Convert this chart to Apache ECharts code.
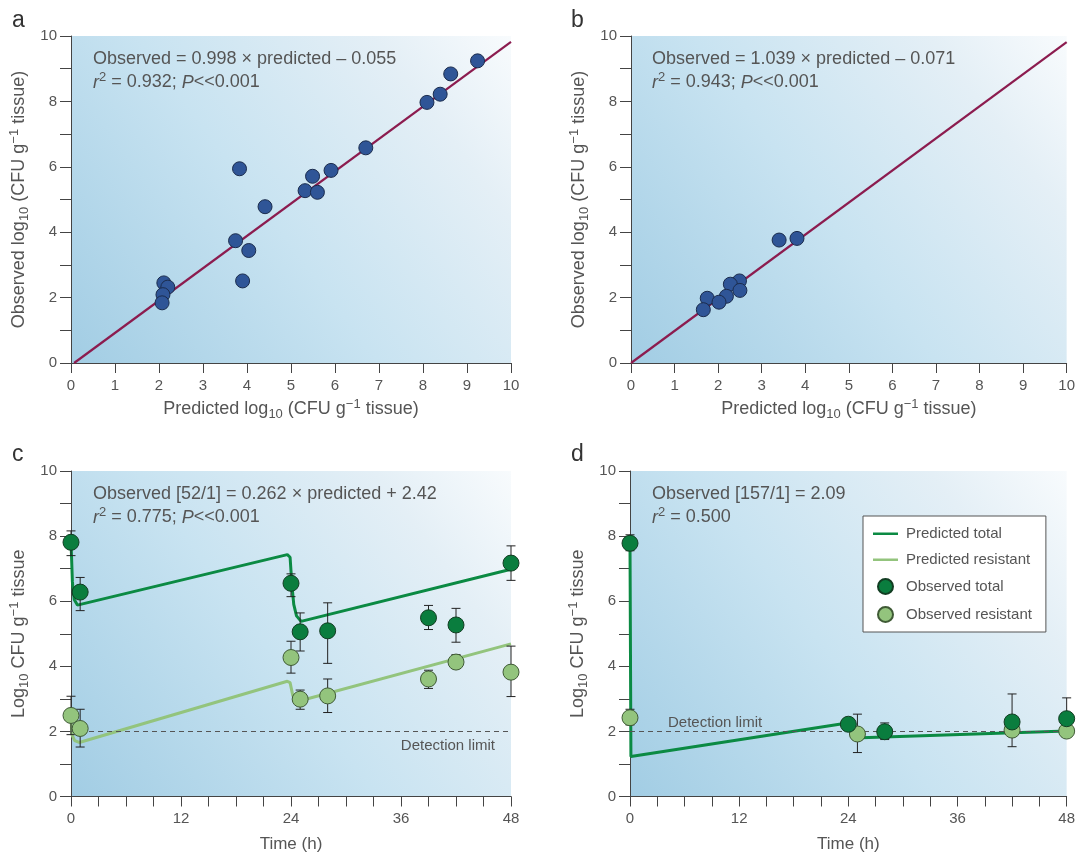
<!DOCTYPE html>
<html><head><meta charset="utf-8">
<script src="https://cdn.jsdelivr.net/npm/echarts@6/dist/echarts.min.js"></script>
<style>html,body{margin:0;padding:0;background:#fff}#c{width:1078px;height:854px}</style>
</head><body><div id="c"></div><script>
// ---------- DATA ----------
// Panel a
const aPred = [9.24, 8.63, 8.39, 8.09, 6.70, 5.91, 5.49, 5.32, 5.60, 3.83, 4.41, 3.74, 4.04, 3.90, 2.11, 2.20, 2.09, 2.07];
const aObs  = [9.24, 8.84, 8.22, 7.97, 6.58, 5.89, 5.71, 5.27, 5.22, 5.94, 4.78, 3.74, 3.44, 2.51, 2.45, 2.32, 2.09, 1.84];
const aFitX = [0.07, 10];
const aFitY = [0, 9.82];
// Panel b
const bPred = [3.40, 3.81, 2.49, 2.28, 2.50, 1.75, 2.19, 2.02, 1.66];
const bObs  = [3.76, 3.81, 2.51, 2.41, 2.22, 1.98, 2.04, 1.86, 1.63];
const bFitX = [0, 10];
const bFitY = [0, 9.81];
// Panel c
const cTime     = [0, 1, 24, 25, 28, 39, 42, 48];
const cTotal    = [7.81, 6.28, 6.55, 5.06, 5.09, 5.49, 5.27, 7.17];
const cTotalLo  = [7.40, 5.71, 6.14, 4.47, 4.09, 5.13, 4.74, 6.64];
const cTotalHi  = [8.16, 6.73, 6.84, 5.64, 5.95, 5.87, 5.78, 7.70];
const cRes      = [2.49, 2.09, 4.27, 2.99, 3.09, 3.61, 4.13, 3.82];
const cResLo    = [1.90, 1.52, 3.79, 2.68, 2.58, 3.32, 3.93, 3.07];
const cResHi    = [3.08, 2.68, 4.77, 3.27, 3.61, 3.88, 4.36, 4.62];
const cPredT    = [0, 0.15, 0.35, 0.7, 23.6, 23.9, 24.1, 24.3, 24.6, 25.1, 48];
const cPredY    = [7.85, 6.6, 6.05, 5.88, 7.43, 7.35, 6.5, 5.9, 5.55, 5.38, 6.98];
const cPredRT   = [0, 0.1, 0.4, 0.9, 23.6, 23.9, 24.2, 24.6, 48];
const cPredRY   = [2.4, 1.9, 1.72, 1.66, 3.54, 3.5, 3.1, 2.91, 4.69];
// Panel d
const dTimeT    = [0, 24, 28, 42, 48];
const dTotal    = [7.78, 2.22, 1.99, 2.29, 2.39];
const dTotalLo  = [7.55, 2.12, 1.75, 1.53, 2.05];
const dTotalHi  = [8.04, 2.32, 2.26, 3.15, 3.03];
const dTimeR    = [0, 25, 42, 48];
const dRes      = [2.42, 1.92, 2.04, 2.01];
const dResLo    = [2.20, 1.35, 1.90, 1.90];
const dResHi    = [2.68, 2.53, 2.20, 2.15];
const dPredT    = [0, 0.1, 23.9, 24.6, 48];
const dPredY    = [7.74, 1.23, 2.26, 1.80, 2.01];
const detectionLimit = 2;
// Tick labels / text
const panelLetters = ['a', 'b', 'c', 'd'];
const legendNames = ['Predicted total', 'Predicted resistant', 'Observed total', 'Observed resistant'];

// ---------- STYLE ----------
const FONT = 'Liberation Sans, Arial, sans-serif';
const TXT = '#555';
const AX = '#444';
const BLUE = '#2f5597', DKGREEN = '#0a7d3e', LTGREEN = '#93c47d', MAROON = '#8c1c4f';
const LINE_DK = '#0b8a43', LINE_LT = '#93c47d';

const zip = (a, b) => a.map((v, i) => [v, b[i]]);
const zip3 = (a, b, c) => a.map((v, i) => [v, b[i], c[i]]);

const bg = () => new echarts.graphic.LinearGradient(0, 1, 1, 0, [
  {offset: 0, color: '#a2cde4'},
  {offset: 0.45, color: '#c8e3f1'},
  {offset: 0.8, color: '#e4eff6'},
  {offset: 1, color: '#f8fbfd'}
]);

const gridBase = {show: true, borderWidth: 0, containLabel: false};
const grids = [
  Object.assign({left: 71, top: 36, width: 440, height: 327, backgroundColor: bg()}, gridBase),
  Object.assign({left: 631, top: 36, width: 438, height: 327, backgroundColor: bg()}, gridBase),
  Object.assign({left: 71, top: 471, width: 440, height: 327, backgroundColor: bg()}, gridBase),
  Object.assign({left: 630, top: 471, width: 439, height: 327, backgroundColor: bg()}, gridBase)
];

const rich = (fs, ss) => {
  ss = ss || Math.round(fs * 0.72);
  const base = {color: TXT, fontFamily: FONT, fontWeight: 'normal'};
  return {
    t: Object.assign({fontSize: fs, lineHeight: fs + 5}, base),
    i: Object.assign({fontSize: fs, fontStyle: 'italic', lineHeight: fs + 5}, base),
    sup: Object.assign({fontSize: ss, verticalAlign: 'top', lineHeight: ss + 1}, base),
    sub: Object.assign({fontSize: ss, verticalAlign: 'bottom', lineHeight: ss + 1}, base)
  };
};

const axisCommon = {
  axisLine: {show: true, lineStyle: {color: AX, width: 1}},
  axisTick: {show: true, inside: false, length: 10, lineStyle: {color: AX, width: 1}},
  splitLine: {show: false},
  axisLabel: {color: TXT, fontSize: 15, fontFamily: FONT, margin: 15}
};

function xAxisPred(gi) {
  return Object.assign({}, axisCommon, {
    type: 'value', gridIndex: gi, min: 0, max: 10, interval: 1,
    name: '{t|Predicted log}{sub|10}{t| (CFU g}{sup|−1}{t| tissue)}',
    nameLocation: 'middle', nameGap: 35,
    nameTextStyle: {rich: rich(18, 13)}
  });
}
function xAxisTime(gi) {
  return Object.assign({}, axisCommon, {
    type: 'value', gridIndex: gi, min: 0, max: 48, interval: 3,
    axisLabel: Object.assign({}, axisCommon.axisLabel, {formatter: v => (v % 12 === 0 ? String(v) : '')}),
    name: '{t|Time (h)}', nameLocation: 'middle', nameGap: 37,
    nameTextStyle: {rich: rich(17)}
  });
}
function yAxis(gi, name) {
  return Object.assign({}, axisCommon, {
    type: 'value', gridIndex: gi, min: 0, max: 10, interval: 1,
    axisTick: Object.assign({}, axisCommon.axisTick, {length: 11}),
    axisLabel: Object.assign({}, axisCommon.axisLabel, {margin: 14, formatter: v => (v % 2 === 0 ? String(v) : '')}),
    name: name, nameLocation: 'middle', nameGap: 40, nameRotate: 90,
    nameTextStyle: {rich: rich(18, 13)}
  });
}
const yObsName = '{t|Observed log}{sub|10}{t| (CFU g}{sup|−1}{t| tissue)}';
const yLogName = '{t|Log}{sub|10}{t| CFU g}{sup|−1}{t| tissue}';

function annot(left, top, line1, line2) {
  return {
    left: left, top: top, padding: 0,
    text: line1 + '\n' + line2,
    textStyle: {fontWeight: 'normal', rich: rich(18, 13)}
  };
}
const letterPos = [[12, 9], [571, 9], [12, 443], [571, 443]];
const titles = panelLetters.map((l, i) => ({
  text: l, left: letterPos[i][0], top: letterPos[i][1], padding: 0,
  textStyle: {fontSize: 23, fontWeight: 'normal', color: '#333', fontFamily: FONT}
}));
titles.push(annot(93, 48, '{t|Observed = 0.998 × predicted – 0.055}', '{i|r}{sup|2}{t| = 0.932; }{i|P}{t|<<0.001}'));
titles.push(annot(652, 48, '{t|Observed = 1.039 × predicted – 0.071}', '{i|r}{sup|2}{t| = 0.943; }{i|P}{t|<<0.001}'));
titles.push(annot(93, 483, '{t|Observed [52/1] = 0.262 × predicted + 2.42}', '{i|r}{sup|2}{t| = 0.775; }{i|P}{t|<<0.001}'));
titles.push(annot(652, 483, '{t|Observed [157/1] = 2.09}', '{i|r}{sup|2}{t| = 0.500}'));

function errBars(gi, data) {
  return {
    type: 'custom', xAxisIndex: gi, yAxisIndex: gi, z: 3, silent: true,
    data: data, encode: {x: 0, y: [1, 2]},
    renderItem: function (params, api) {
      const x = api.value(0);
      const lo = api.coord([x, api.value(1)]);
      const hi = api.coord([x, api.value(2)]);
      const w = 4.5;
      const st = {stroke: '#222', lineWidth: 1};
      return {type: 'group', children: [
        {type: 'line', shape: {x1: lo[0], y1: lo[1], x2: hi[0], y2: hi[1]}, style: st},
        {type: 'line', shape: {x1: hi[0] - w, y1: hi[1], x2: hi[0] + w, y2: hi[1]}, style: st},
        {type: 'line', shape: {x1: lo[0] - w, y1: lo[1], x2: lo[0] + w, y2: lo[1]}, style: st}
      ]};
    }
  };
}
function scatter(gi, name, data, color, border, size) {
  return {
    type: 'scatter', name: name, xAxisIndex: gi, yAxisIndex: gi, z: 5,
    data: data, symbol: 'circle', symbolSize: size,
    itemStyle: {color: color, borderColor: border, borderWidth: 1, opacity: 1}
  };
}
function line(gi, name, data, color, width, z) {
  return {
    type: 'line', name: name, xAxisIndex: gi, yAxisIndex: gi, z: z || 2,
    data: data, symbol: 'none', showSymbol: false, smooth: false,
    lineStyle: {color: color, width: width}, itemStyle: {color: color}
  };
}
function detLine(gi, labelPos, dist) {
  return {
    type: 'line', xAxisIndex: gi, yAxisIndex: gi, data: [], z: 1, silent: true,
    markLine: {
      silent: true, symbol: 'none', animation: false,
      data: [{yAxis: detectionLimit}],
      lineStyle: {type: [5, 4], color: '#555', width: 1},
      label: {show: true, formatter: 'Detection limit', position: labelPos, distance: dist,
              color: TXT, fontSize: 15, fontFamily: FONT}
    }
  };
}

const series = [
  // a
  line(0, 'fitA', zip(aFitX, aFitY), MAROON, 2.2),
  scatter(0, 'obsA', zip(aPred, aObs), BLUE, '#1b2c4d', 14),
  // b
  line(1, 'fitB', zip(bFitX, bFitY), MAROON, 2.2),
  scatter(1, 'obsB', zip(bPred, bObs), BLUE, '#1b2c4d', 14),
  // c
  detLine(2, 'insideEndBottom', [16, 7]),
  line(2, 'Predicted total', zip(cPredT, cPredY), LINE_DK, 3),
  line(2, 'Predicted resistant', zip(cPredRT, cPredRY), LINE_LT, 3),
  errBars(2, zip3(cTime, cTotalLo, cTotalHi)),
  errBars(2, zip3(cTime, cResLo, cResHi)),
  scatter(2, 'Observed total', zip(cTime, cTotal), DKGREEN, '#123d22', 16),
  scatter(2, 'Observed resistant', zip(cTime, cRes), LTGREEN, '#3f5a35', 16),
  // d
  detLine(3, 'insideStartTop', [38, 1]),
  line(3, 'Predicted total', zip(dPredT, dPredY), LINE_DK, 3),
  errBars(3, zip3(dTimeT, dTotalLo, dTotalHi)),
  errBars(3, zip3(dTimeR, dResLo, dResHi)),
  scatter(3, 'Observed resistant', zip(dTimeR, dRes), LTGREEN, '#3f5a35', 16),
  scatter(3, 'Observed total', zip(dTimeT, dTotal), DKGREEN, '#123d22', 16)
];

const lineIcon = 'path://M0,0L0.01,0M0,6.5L25,6.5L25,9L0,9ZM25,15L25.01,15';
const option = {
  animation: false,
  backgroundColor: '#fff',
  title: titles,
  grid: grids,
  xAxis: [xAxisPred(0), xAxisPred(1), xAxisTime(2), xAxisTime(3)],
  yAxis: [yAxis(0, yObsName), yAxis(1, yObsName), yAxis(2, yLogName), yAxis(3, yLogName)],
  legend: {
    data: [
      {name: legendNames[0], icon: lineIcon, itemStyle: {color: LINE_DK, borderWidth: 0}, lineStyle: {width: 0}},
      {name: legendNames[1], icon: lineIcon, itemStyle: {color: LINE_LT, borderWidth: 0}, lineStyle: {width: 0}},
      {name: legendNames[2]},
      {name: legendNames[3]}
    ],
    orient: 'vertical', left: 863, top: 516,
    backgroundColor: '#fff', borderColor: '#555', borderWidth: 1, borderRadius: 0,
    padding: [10, 14, 9, 10], itemGap: 11, itemWidth: 25, itemHeight: 15,
    selectedMode: false,
    textStyle: {color: TXT, fontSize: 15, fontFamily: FONT, padding: [0, 0, 0, 3]}
  },
  series: series
};
const chart = echarts.init(document.getElementById('c'), null, {renderer: 'canvas'});
chart.setOption(option);
</script></body></html>
